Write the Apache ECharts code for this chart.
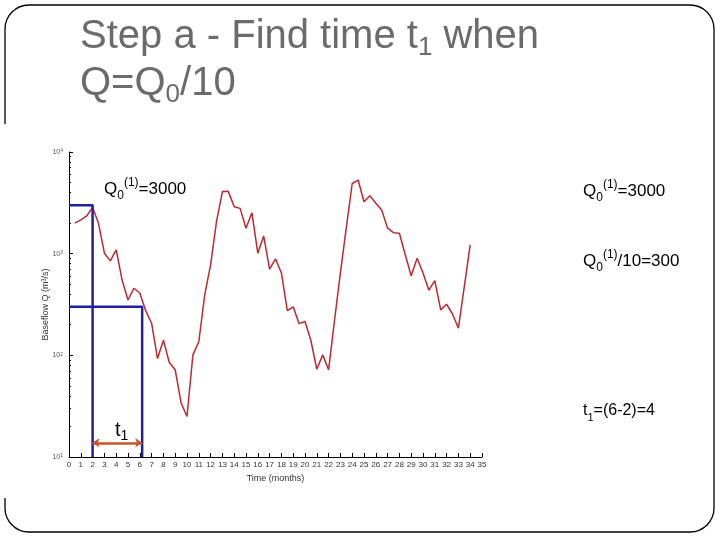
<!DOCTYPE html>
<html><head><meta charset="utf-8">
<script src="https://cdn.jsdelivr.net/npm/echarts@6/dist/echarts.min.js"></script>
<style>html,body{margin:0;padding:0;background:#fff}#c{width:720px;height:540px}</style>
</head><body><div id="c"></div>
<script>
// ---- data ----
const months = [0.5,1,1.5,2,2.5,3,3.5,4,4.5,5,5.5,6,6.5,7,7.5,8,8.5,9,9.5,10,10.5,11,11.5,12,12.5,13,13.5,14,14.5,15,15.5,16,16.5,17,17.5,18,18.5,19,19.5,20,20.5,21,21.5,22,22.5,23,23.5,24,24.5,25,25.5,26,26.5,27,27.5,28,28.5,29,29.5,30,30.5,31,31.5,32,32.5,33,33.5,34];
const baseflow = [2000,2150,2350,2850,1990,1010,850,1090,550,350,457,410,275,207,93,141,85,72,34,25,101,136,393,776,2070,4080,4100,2890,2790,1780,2530,1010,1490,703,890,646,275,300,205,215,140,73,101,72,220,646,1800,4900,5300,3240,3720,3130,2690,1780,1610,1590,970,605,900,645,437,543,280,318,255,185,474,1220];
const q0 = 3000;
const q0div10 = 300;
const tStart = 2;
const tEnd = 6.2;
const arrowLevel = 13.8;
const yMinorTicks = [20,30,40,50,60,70,80,90,200,300,400,500,600,700,800,900,2000,3000,4000,5000,6000,7000,8000,9000];

const FONT = 'Liberation Sans, Arial, sans-serif';
const chart = echarts.init(document.getElementById('c'));

const blueStyle = {color:'#1f1fa0', width:2.5};

function qLabel(rest, size){
  const s = Math.round(size*0.72);
  return {
    text: '{m|Q}{sb|0}{sp|(1)}{m|' + rest + '}',
    rich: {
      m:{fontSize:size, fontFamily:FONT, fill:'#000', lineHeight:size+8},
      sb:{fontSize:s, fontFamily:FONT, fill:'#000', verticalAlign:'bottom'},
      sp:{fontSize:s, fontFamily:FONT, fill:'#000', verticalAlign:'top'}
    }
  };
}
function txt(x, y, obj){
  return {type:'text', x:x, y:y, z:100, style:Object.assign({verticalAlign:'middle', align:'left'}, obj)};
}

const option = {
  animation:false,
  backgroundColor:'#fff',
  grid:{left:69, top:152, width:413, height:305, containLabel:false},
  xAxis:{
    type:'value', min:0, max:35, interval:1,
    axisLine:{onZero:false, lineStyle:{color:'#000', width:1}},
    axisTick:{inside:true, length:4, lineStyle:{color:'#000'}},
    axisLabel:{fontSize:8, color:'#333', margin:4, fontFamily:FONT},
    splitLine:{show:false},
    name:'Time (months)', nameLocation:'middle', nameGap:15,
    nameTextStyle:{fontSize:9, color:'#333', fontFamily:FONT}
  },
  yAxis:[{
    type:'log', logBase:10, min:10, max:10000,
    axisLine:{show:true, lineStyle:{color:'#000', width:1}},
    axisTick:{show:true, inside:true, length:4, lineStyle:{color:'#000'}},
    axisLabel:{margin:6, formatter:function(v){return '{b|10}{s|'+Math.round(Math.log10(v))+'}';},
      rich:{b:{fontSize:7, color:'#555', fontFamily:FONT}, s:{fontSize:5, color:'#555', fontFamily:FONT, verticalAlign:'top'}}},
    splitLine:{show:false},
    name:'Baseflow Q (m\u00b3/s)', nameLocation:'middle', nameGap:19, nameRotate:90, nameMoveOverlap:false,
    nameTextStyle:{fontSize:9, color:'#333', fontFamily:FONT}
  },{
    type:'log', logBase:10, min:10, max:10000, position:'left',
    axisLine:{show:false},
    axisTick:{show:true, inside:true, length:2, customValues:yMinorTicks, lineStyle:{color:'#000'}},
    axisLabel:{show:false},
    splitLine:{show:false}
  }],
  series:[
    {type:'line', data:months.map((m,i)=>[m, baseflow[i]]), showSymbol:false,
     lineStyle:{color:'#bb2a33', width:1.5}, z:3},
    {type:'line', data:[[0,q0],[tStart,q0],[tStart,10]], showSymbol:false, lineStyle:blueStyle, z:4},
    {type:'line', data:[[0,q0div10],[tEnd,q0div10],[tEnd,10]], showSymbol:false, lineStyle:blueStyle, z:4},
    {type:'lines', coordinateSystem:'cartesian2d', symbol:['arrow','arrow'], symbolSize:7,
     lineStyle:{color:'#c8552a', width:2.5, opacity:1}, z:5,
     data:[{coords:[[tStart,arrowLevel],[tEnd,arrowLevel]]}]}
  ],
  graphic:[
    {type:'rect', z:0, shape:{x:5, y:5, width:709, height:527, r:24}, style:{fill:'none', stroke:'#000', lineWidth:1.3}},
    {type:'rect', z:1, shape:{x:0, y:124, width:12, height:374}, style:{fill:'#fff'}},
    txt(80, 37, {text:'{m|Step a - Find time t}{sb|1}{m| when}', rich:{
      m:{fontSize:40, fontFamily:FONT, fill:'#6b6b6b', lineHeight:48},
      sb:{fontSize:26, fontFamily:FONT, fill:'#6b6b6b', verticalAlign:'bottom'}}}),
    txt(80, 84, {text:'{m|Q=Q}{sb|0}{m|/10}', rich:{
      m:{fontSize:40, fontFamily:FONT, fill:'#6b6b6b', lineHeight:48},
      sb:{fontSize:26, fontFamily:FONT, fill:'#6b6b6b', verticalAlign:'bottom'}}}),
    txt(104, 189, qLabel('=3000', 17)),
    txt(583, 191, qLabel('=3000', 17)),
    txt(583, 261, qLabel('/10=300', 17)),
    txt(583, 411, {text:'{m|t}{sb|1}{m|=(6-2)=4}', rich:{
      m:{fontSize:16, fontFamily:FONT, fill:'#000', lineHeight:24},
      sb:{fontSize:11, fontFamily:FONT, fill:'#000', verticalAlign:'bottom'}}}),
    txt(115, 430, {text:'{m|t}{sb|1}', rich:{
      m:{fontSize:20, fontFamily:FONT, fill:'#000', lineHeight:26},
      sb:{fontSize:14, fontFamily:FONT, fill:'#000', verticalAlign:'bottom'}}})
  ]
};
chart.setOption(option);
</script></body></html>
